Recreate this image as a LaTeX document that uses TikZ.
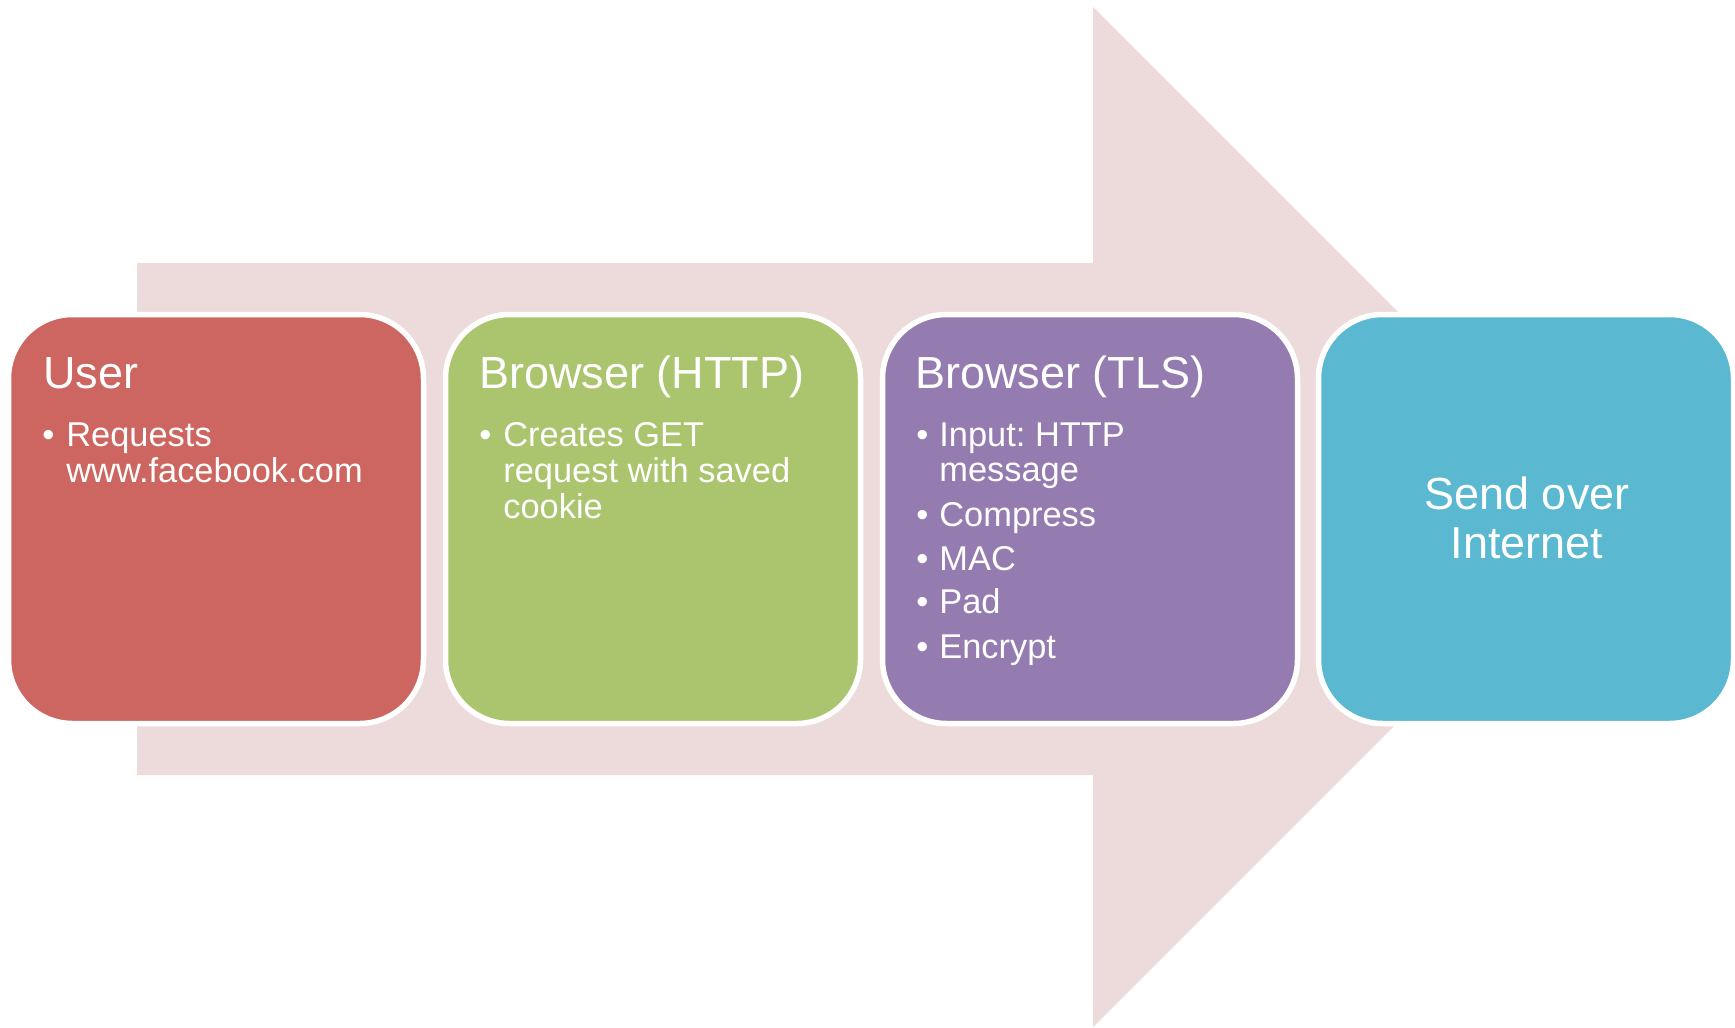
\documentclass[tikz,border=0pt]{standalone}
\usepackage{fontspec}
\setmainfont{Liberation Sans}
\frenchspacing
\definecolor{arrowpink}{RGB}{237,218,218}
\definecolor{boxred}{RGB}{205,102,96}
\definecolor{boxgreen}{RGB}{171,196,110}
\definecolor{boxpurple}{RGB}{148,123,176}
\definecolor{boxcyan}{RGB}{91,184,209}
\tikzset{
  stage/.style={draw=white, line width=2.75pt, rounded corners=32pt,
    minimum width=207.5pt, minimum height=204.5pt, inner sep=0pt},
  titletext/.style={anchor=base west, inner sep=0pt, text=white,
    font=\fontsize{22.5pt}{27pt}\selectfont},
  itemtext/.style={anchor=base west, inner sep=0pt, text=white,
    font=\fontsize{17.2pt}{20pt}\selectfont},
  centertext/.style={anchor=base, inner sep=0pt, text=white,
    font=\fontsize{22.5pt}{27pt}\selectfont},
}
\begin{document}
\begin{tikzpicture}[x=0.5pt,y=-0.5pt]
\path[use as bounding box] (0,0) rectangle (1735,1028);
% big background arrow
\fill[arrowpink] (137,263) -- (1093,263) -- (1093,7) -- (1603,517)
  -- (1093,1027) -- (1093,775) -- (137,775) -- cycle;
% stage boxes
\node[stage, fill=boxred]    (user) at (216,519) {};
\node[stage, fill=boxgreen]  (http) at (653,519) {};
\node[stage, fill=boxpurple] (tls)  at (1090,519) {};
\node[stage, fill=boxcyan]   (send) at (1526,519) {};
% User
\node[titletext] (t1) at (43,388) {User};
\node[itemtext] (b1a) at (42,446) {•};
\node[itemtext] (l1a) at (66,446) {Requests};
\node[itemtext] (l1b) at (66,482) {www.facebook.com};
% Browser (HTTP)
\node[titletext] (t2) at (479,388) {Browser (HTTP)};
\node[itemtext] (b2a) at (479,446) {•};
\node[itemtext] (l2a) at (503,446) {Creates GET};
\node[itemtext] (l2b) at (503,482) {request with saved};
\node[itemtext] (l2c) at (503,518) {cookie};
% Browser (TLS)
\node[titletext] (t3) at (915,388) {Browser (TLS)};
\node[itemtext] (b3a) at (916,446) {•};
\node[itemtext] (l3a) at (939,446) {Input: HTTP};
\node[itemtext] (l3b) at (939,481) {message};
\node[itemtext] (b3b) at (916,526) {•};
\node[itemtext] (l3c) at (939,526) {Compress};
\node[itemtext] (b3c) at (916,570) {•};
\node[itemtext] (l3d) at (939,570) {MAC};
\node[itemtext] (b3d) at (916,613) {•};
\node[itemtext] (l3e) at (939,613) {Pad};
\node[itemtext] (b3e) at (916,658) {•};
\node[itemtext] (l3f) at (939,658) {Encrypt};
% Send over Internet
\node[centertext] (s1) at (1527,509) {Send over};
\node[centertext] (s2) at (1527,558) {Internet};
\end{tikzpicture}
\end{document}
